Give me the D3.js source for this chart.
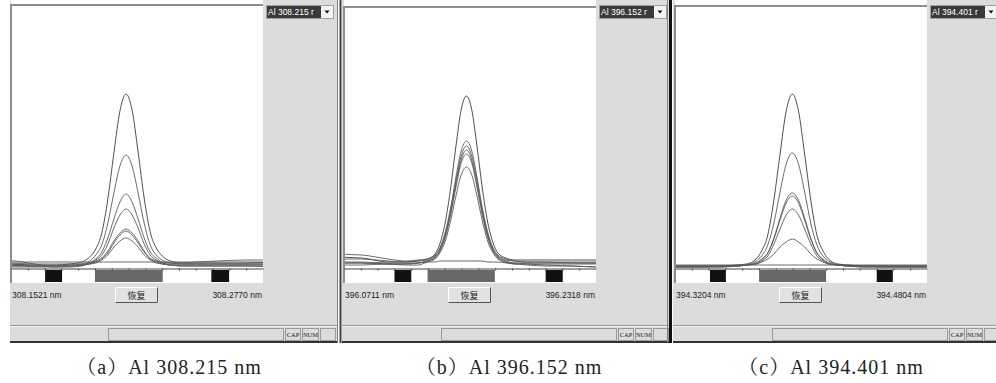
<!DOCTYPE html>
<html>
<head>
<meta charset="utf-8">
<script src="https://cdn.jsdelivr.net/npm/d3@7"></script>
<style>
body { margin: 0; background: #fff; }
svg { display: block; }
</style>
</head>
<body>
<svg width="996" height="383"></svg>
<script>
// Al emission lines, one window per line
const lineNames = ['Al 308.215 r', 'Al 396.152 r', 'Al 394.401 r']
const captions = ['（a）Al 308.215 nm', '（b）Al 396.152 nm', '（c）Al 394.401 nm']
const rangeStart = [308.1521, 396.0711, 394.3204]
const rangeEnd = [308.2770, 396.2318, 394.4804]
const peakCentre = [308.2091, 396.1492, 394.3949]

// sample positions, pm from the peak centre (one list per window)
const offsetsA = [-78, -60, -45, -35, -28, -22, -18, -15, -12, -9, -6, -3, 0, 3, 6, 9, 12, 15, 18, 22, 28, 35, 45, 60, 75, 86]
const offsetsB = [-87, -67, -50, -39, -31, -25, -20, -17, -13.5, -10, -6.7, -3.4, 0, 3.4, 6.7, 10, 13.5, 17, 20, 25, 31, 39, 50, 67, 84, 96]
const offsetsC = [-101, -78, -58, -45, -36, -29, -23, -19.5, -15.6, -11.7, -7.8, -3.9, 0, 3.9, 7.8, 11.7, 15.6, 19.5, 23, 29, 36, 45, 58, 78, 97, 112]

// intensities (arbitrary units)
const tracesA = [
	[4, 4, 3, 3, 4, 6, 11, 19, 35, 69, 115, 157, 174, 158, 116, 70, 36, 20, 12, 7, 5, 5, 5, 5, 6, 6],
	[3, 3, 2, 2, 3, 4, 7, 13, 23, 45, 75, 102, 113, 102, 75, 45, 23, 13, 8, 5, 4, 4, 4, 4, 4, 4],
	[9, 8, 4, 1, 1, 2, 5, 9, 16, 30, 49, 66, 74, 66, 49, 30, 16, 10, 6, 5, 5, 6, 7, 8, 8, 8],
	[2, 2, 2, 2, 2, 3, 5, 8, 13, 24, 40, 53, 59, 53, 40, 24, 13, 8, 5, 3, 3, 3, 3, 3, 3, 3],
	[5, 5, 4, 4, 4, 4, 5, 7, 10, 17, 27, 35, 39, 35, 27, 17, 10, 7, 5, 4, 4, 4, 4, 4, 4, 4],
	[3, 3, 2, 2, 2, 3, 4, 6, 9, 15, 25, 33, 37, 33, 25, 16, 9, 6, 4, 3, 2, 2, 2, 2, 2, 2],
	[1, 1, 1, 1, 2, 3, 4, 5, 8, 13, 21, 27, 30, 27, 21, 13, 8, 5, 4, 3, 2, 2, 2, 2, 1, 1],
	[6, 6, 6, 6, 6, 6, 6, 6, 6, 6, 6, 6, 6, 6, 6, 6, 6, 6, 6, 6, 6, 6, 6, 6, 6, 6]
]
const tracesB = [
	[11, 10, 6, 6, 7, 9, 14, 24, 46, 81, 122, 158, 172, 158, 122, 81, 46, 25, 15, 10, 8, 8, 8, 8, 8, 8],
	[14, 13, 9, 7, 8, 9, 13, 20, 36, 61, 91, 117, 127, 117, 91, 61, 36, 20, 13, 9, 7, 6, 6, 6, 6, 6],
	[9, 9, 7, 6, 7, 8, 12, 19, 34, 58, 87, 112, 122, 112, 87, 58, 34, 19, 12, 8, 7, 6, 6, 5, 5, 5],
	[5, 5, 4, 4, 5, 7, 11, 17, 32, 56, 84, 108, 118, 108, 84, 56, 32, 17, 11, 7, 5, 5, 5, 5, 5, 5],
	[6, 6, 5, 5, 5, 7, 10, 17, 31, 54, 81, 105, 114, 105, 81, 54, 31, 17, 10, 6, 5, 4, 3, 2, 1, 1],
	[5, 5, 4, 3, 3, 6, 9, 15, 27, 48, 72, 93, 101, 93, 72, 48, 27, 15, 9, 6, 4, 4, 4, 4, 4, 4],
	[3, 3, 4, 4, 5, 6, 6, 7, 7, 7, 7, 7, 7, 7, 7, 7, 6, 6, 6, 5, 4, 3, 2, 2, 1, 1]
]
const tracesC = [
	[2, 2, 2, 2, 3, 4, 9, 17, 33, 68, 114, 157, 174, 157, 114, 68, 33, 17, 9, 4, 3, 2, 2, 2, 2, 2],
	[2, 2, 2, 2, 2, 3, 7, 12, 23, 45, 76, 104, 115, 104, 76, 45, 23, 12, 7, 3, 2, 2, 2, 2, 2, 2],
	[1, 1, 1, 1, 2, 3, 5, 9, 15, 30, 50, 68, 75, 68, 50, 30, 15, 9, 5, 3, 2, 1, 1, 1, 1, 1],
	[2, 2, 2, 2, 2, 3, 5, 8, 15, 29, 48, 65, 72, 65, 48, 29, 15, 8, 5, 3, 2, 2, 2, 2, 2, 2],
	[1, 1, 1, 2, 2, 3, 4, 7, 12, 24, 39, 53, 59, 53, 39, 24, 12, 7, 4, 3, 2, 2, 1, 1, 1, 1],
	[1, 1, 1, 1, 2, 3, 4, 6, 9, 14, 21, 26, 29, 26, 21, 14, 9, 6, 4, 3, 2, 1, 1, 1, 1, 1],
	[3, 3, 3, 3, 3, 3, 3, 3, 3, 3, 3, 3, 3, 3, 3, 3, 3, 3, 3, 3, 3, 3, 3, 3, 3, 3]
]

// background / peak integration windows, pm from the peak centre
const windowsA = [[-40.1, -31.7], [-15.4, 18.2], [42.3, 51.1]]
const windowsB = [[-45.9, -35.2], [-24.8, 18.1], [50.5, 61.4]]
const windowsC = [[-52.3, -42.2], [-21.1, 21.4], [53.6, 63.8]]
const windowKinds = ['bg', 'peak', 'bg']

const offsets = [offsetsA, offsetsB, offsetsC]
const traces = [tracesA, tracesB, tracesC]
const windows = [windowsA, windowsB, windowsC]

// panel frames
const frames = [
	{ gx: 10, gw: 327, px: 11, py: 5, cx: 169 },
	{ gx: 342, gw: 328, px: 344, py: 7, cx: 509 },
	{ gx: 673, gw: 323, px: 675, py: 6, cx: 831 }
]
const plotW = 252
const plotBottom = 283
const axisY = 268
const uiFont = '"Liberation Sans", Arial, sans-serif'

const svg = d3.select('svg')
const defs = svg.append('defs')

frames.forEach((f, i) => {
	const g = svg.append('g')

	// grey window body
	g.append('rect')
		.attr('x', f.gx).attr('y', 0)
		.attr('width', f.gw).attr('height', 343)
		.attr('fill', '#dcdcdc')

	// white plot area
	g.append('rect')
		.attr('x', f.px).attr('y', 0)
		.attr('width', plotW).attr('height', plotBottom)
		.attr('fill', '#fff')
	g.append('path')
		.attr('d', `M${f.px},${plotBottom}V${f.py}H${f.px + plotW}`)
		.attr('fill', 'none')
		.attr('stroke', '#8e8e8e')
		.attr('stroke-width', 2)

	const x = d3.scaleLinear().domain([rangeStart[i], rangeEnd[i]]).range([f.px, f.px + plotW])
	const y = d3.scaleLinear().domain([0, 263]).range([axisY, 5])

	defs.append('clipPath').attr('id', 'clip' + i)
		.append('rect')
		.attr('x', f.px + 1).attr('y', f.py + 1)
		.attr('width', plotW - 1).attr('height', axisY - f.py)

	const line = d3.line()
		.x((d, k) => x(peakCentre[i] + offsets[i][k] / 1000))
		.y(d => y(d))
		.curve(d3.curveMonotoneX)

	g.append('g')
		.attr('clip-path', `url(#clip${i})`)
		.selectAll('path')
		.data(traces[i])
		.join('path')
		.attr('d', line)
		.attr('fill', 'none')
		.attr('stroke', (d, k) => k === 0 ? '#3c3c3c' : '#5a5a5a')
		.attr('stroke-width', 0.9)

	// baseline with small ticks
	const tickScale = d3.scaleLinear().domain([0, 15]).range([f.px, f.px + plotW])
	const axis = g.append('g')
		.attr('transform', `translate(0,${axisY + 0.5})`)
		.call(d3.axisBottom(tickScale).tickValues(d3.range(1, 15)).tickSize(2).tickSizeOuter(0).tickFormat(''))
	axis.selectAll('path, line').attr('stroke', '#444')

	// window markers
	g.append('g')
		.selectAll('rect')
		.data(windows[i])
		.join('rect')
		.attr('x', d => x(peakCentre[i] + d[0] / 1000))
		.attr('y', 270)
		.attr('width', d => x(peakCentre[i] + d[1] / 1000) - x(peakCentre[i] + d[0] / 1000))
		.attr('height', 12)
		.attr('fill', (d, k) => windowKinds[k] === 'peak' ? '#686868' : '#111')

	// line selector
	g.append('rect')
		.attr('x', f.px + 255.5).attr('y', 5.5)
		.attr('width', 67).attr('height', 13)
		.attr('fill', '#f4f4f4').attr('stroke', '#a0a0a0')
	g.append('rect')
		.attr('x', f.px + 256).attr('y', 6)
		.attr('width', 54).attr('height', 12)
		.attr('fill', '#3a3a3a')
	g.append('text')
		.attr('x', f.px + 257).attr('y', 15)
		.attr('fill', '#fff')
		.attr('font-family', uiFont)
		.attr('font-size', 8.5)
		.text(lineNames[i])
	g.append('path')
		.attr('d', `M${f.px + 313.5},${10.5}h5l-2.5,3z`)
		.attr('fill', '#111')

	// range labels
	g.append('text')
		.attr('x', f.px + 1).attr('y', 298)
		.attr('font-family', uiFont).attr('font-size', 8.5).attr('fill', '#222')
		.text(d3.format('.4f')(rangeStart[i]) + ' nm')
	g.append('text')
		.attr('x', f.px + plotW - 1).attr('y', 298)
		.attr('text-anchor', 'end')
		.attr('font-family', uiFont).attr('font-size', 8.5).attr('fill', '#222')
		.text(d3.format('.4f')(rangeEnd[i]) + ' nm')

	// restore button
	const bx = f.px + 104.5
	g.append('rect')
		.attr('x', bx).attr('y', 287.5)
		.attr('width', 42).attr('height', 15)
		.attr('fill', '#e2e2e2')
	g.append('path')
		.attr('d', `M${bx},${302.5}V287.5H${bx + 42}`)
		.attr('fill', 'none').attr('stroke', '#fff')
	g.append('path')
		.attr('d', `M${bx},${302.5}H${bx + 42}V287.5`)
		.attr('fill', 'none').attr('stroke', '#555')
	g.append('text')
		.attr('x', bx + 21).attr('y', 298.5)
		.attr('text-anchor', 'middle')
		.attr('font-family', '"Noto Sans CJK SC", sans-serif')
		.attr('font-size', 9).attr('fill', '#222')
		.text('恢复')

	// status bar
	g.append('line')
		.attr('x1', f.gx).attr('x2', f.gx + f.gw)
		.attr('y1', 325.5).attr('y2', 325.5)
		.attr('stroke', '#999')
	g.append('line')
		.attr('x1', f.gx).attr('x2', f.gx + f.gw)
		.attr('y1', 326.5).attr('y2', 326.5)
		.attr('stroke', '#f4f4f4')
	const boxes = [[97, 175, ''], [274, 15, 'CAP'], [291, 16, 'NUM'], [309, 15, '']]
	boxes.forEach(b => {
		g.append('rect')
			.attr('x', f.px + b[0] + 0.5).attr('y', 328.5)
			.attr('width', b[1]).attr('height', 12)
			.attr('fill', 'none').attr('stroke', '#9a9a9a')
		if (b[2]) {
			g.append('text')
				.attr('x', f.px + b[0] + b[1] / 2 + 0.5).attr('y', 337)
				.attr('text-anchor', 'middle')
				.attr('font-family', '"Liberation Serif", serif')
				.attr('font-size', 6.5).attr('fill', '#222')
				.text(b[2])
		}
	})
	g.append('line')
		.attr('x1', f.gx).attr('x2', f.gx + f.gw)
		.attr('y1', 342).attr('y2', 342)
		.attr('stroke', '#333').attr('stroke-width', 2)

	// caption
	svg.append('text')
		.attr('x', f.cx).attr('y', 374)
		.attr('text-anchor', 'middle')
		.attr('font-family', '"Liberation Serif", "Noto Serif CJK SC", "Noto Sans CJK SC", serif')
		.attr('font-size', 20).attr('letter-spacing', 1).attr('fill', '#222')
		.text(captions[i])
})

// window separators
svg.append('line').attr('x1', 337.5).attr('x2', 337.5).attr('y1', 0).attr('y2', 343).attr('stroke', '#808080')
svg.append('line').attr('x1', 340.5).attr('x2', 340.5).attr('y1', 0).attr('y2', 343).attr('stroke', '#404040').attr('stroke-width', 2)
svg.append('line').attr('x1', 667.5).attr('x2', 667.5).attr('y1', 0).attr('y2', 343).attr('stroke', '#808080')
svg.append('line').attr('x1', 670.5).attr('x2', 670.5).attr('y1', 0).attr('y2', 343).attr('stroke', '#111').attr('stroke-width', 3)
</script>
</body>
</html>
